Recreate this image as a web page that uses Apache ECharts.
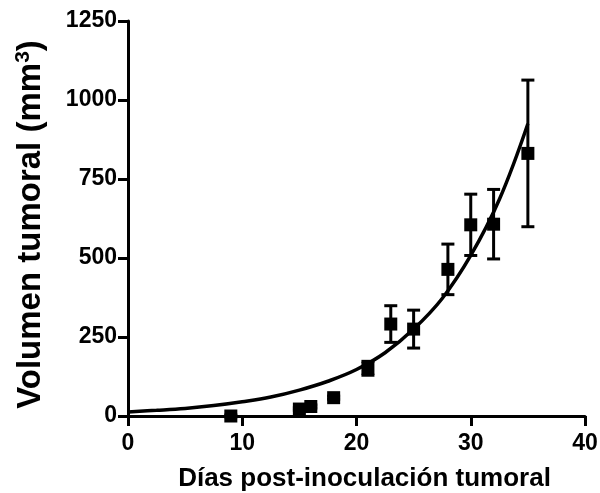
<!DOCTYPE html>
<html>
<head>
<meta charset="utf-8">
<script src="https://cdn.jsdelivr.net/npm/echarts@6/dist/echarts.min.js"></script>
<style>
  html, body { margin: 0; padding: 0; background: #fff; }
  #chart { width: 600px; height: 493px; }
</style>
</head>
<body>
<div id="chart"></div>
<script>
// mediciones (media y error)
const days = [9, 15, 16, 18, 21, 23, 25, 28, 30, 32, 35]
const volume = [0, 22, 30, 58, 151, 291, 275, 464, 605, 607, 831]
const volErr = [3, 4, 5, 5, 22, 58, 60, 80, 97, 110, 232]

// curva de ajuste
const fitDays = [0, 2.5, 5, 7.5, 10, 12.5, 15, 17.5, 20, 22.5, 25, 27.5, 30, 32.5, 35]
const fitVolume = [13, 18, 24, 33, 45, 60, 82, 110, 147, 200, 275, 372, 508, 685, 925]

const xTicks = [0, 10, 20, 30, 40]
const yTicks = [0, 250, 500, 750, 1000, 1250]

const FONT = '"Liberation Sans", Arial, sans-serif'

const chart = echarts.init(document.getElementById('chart'))

const option = {
  animation: false,
  backgroundColor: '#fff',
  grid: {
    left: 128,
    right: 15,
    top: 21,
    bottom: 77,
    containLabel: false,
    outerBoundsMode: 'none'
  },
  xAxis: {
    type: 'value',
    min: xTicks[0],
    max: xTicks[xTicks.length - 1],
    interval: 10,
    name: 'Días post-inoculación tumoral',
    nameLocation: 'middle',
    nameGap: 50,
    nameTextStyle: {
      color: '#000',
      fontFamily: FONT,
      fontWeight: 'bold',
      fontSize: 26,
      padding: [0, 0, 0, 16]
    },
    axisLine: { onZero: false, lineStyle: { color: '#000', width: 3 } },
    axisTick: { length: 10, lineStyle: { color: '#000', width: 3 } },
    axisLabel: {
      color: '#000',
      fontFamily: FONT,
      fontWeight: 'bold',
      fontSize: 23,
      margin: 16,
      formatter: v => String(v)
    },
    splitLine: { show: false }
  },
  yAxis: {
    type: 'value',
    min: yTicks[0],
    max: yTicks[yTicks.length - 1],
    interval: 250,
    name: 'Volumen tumoral (mm{sup|3})',
    nameLocation: 'middle',
    nameRotate: 90,
    nameGap: 80,
    nameTextStyle: {
      color: '#000',
      fontFamily: FONT,
      fontWeight: 'bold',
      fontSize: 33,
      padding: [0, 12, 0, 0],
      rich: {
        sup: {
          color: '#000',
          fontFamily: FONT,
          fontWeight: 'bold',
          fontSize: 21,
          verticalAlign: 'top',
          padding: [0, 0, 14, 0]
        }
      }
    },
    axisLine: { onZero: false, lineStyle: { color: '#000', width: 3 } },
    axisTick: { length: 10, lineStyle: { color: '#000', width: 3 } },
    axisLabel: {
      color: '#000',
      fontFamily: FONT,
      fontWeight: 'bold',
      fontSize: 23,
      margin: 11,
      formatter: v => String(v)
    },
    splitLine: { show: false }
  },
  series: [
    {
      name: 'ajuste',
      type: 'line',
      data: fitDays.map((d, i) => [d, fitVolume[i]]),
      smooth: 0.4,
      showSymbol: false,
      lineStyle: { color: '#000', width: 3.5 },
      z: 2
    },
    {
      name: 'error',
      type: 'custom',
      data: days.map((d, i) => [d, volume[i] - volErr[i], volume[i] + volErr[i]]),
      clip: false,
      renderItem: function(params, api) {
        const x = api.value(0)
        const lo = api.coord([x, api.value(1)])
        const hi = api.coord([x, api.value(2)])
        const half = 6.5
        const style = { stroke: '#000', lineWidth: 3 }
        return {
          type: 'group',
          children: [
            { type: 'line', shape: { x1: lo[0], y1: lo[1], x2: hi[0], y2: hi[1] }, style: style },
            { type: 'line', shape: { x1: lo[0] - half, y1: lo[1], x2: lo[0] + half, y2: lo[1] }, style: style },
            { type: 'line', shape: { x1: hi[0] - half, y1: hi[1], x2: hi[0] + half, y2: hi[1] }, style: style }
          ]
        }
      },
      z: 3
    },
    {
      name: 'volumen',
      type: 'scatter',
      data: days.map((d, i) => [d, volume[i]]),
      symbol: 'rect',
      symbolSize: 13,
      itemStyle: { color: '#000', opacity: 1 },
      clip: false,
      z: 4
    }
  ]
}

chart.setOption(option)
</script>
</body>
</html>
